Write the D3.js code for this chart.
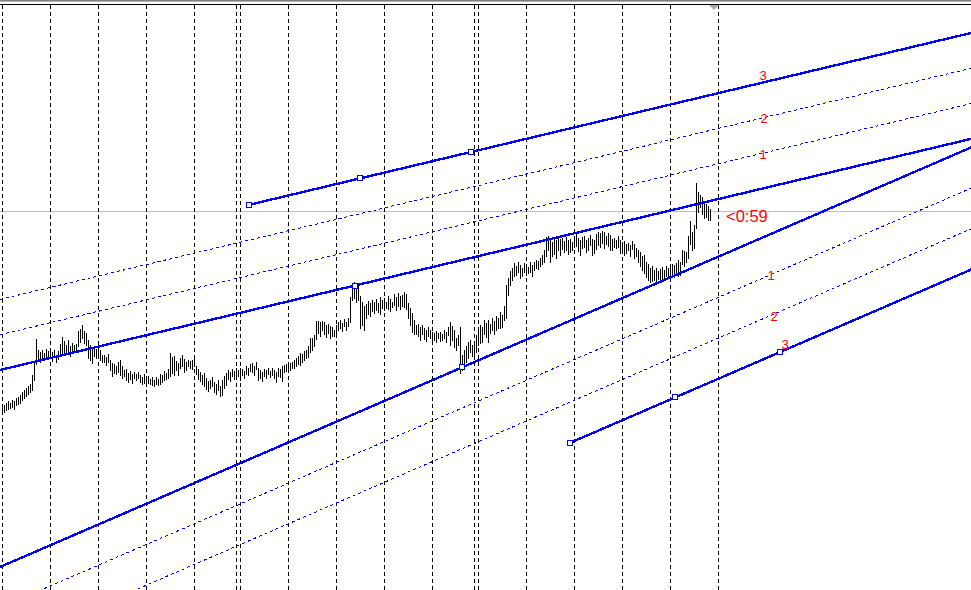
<!DOCTYPE html>
<html><head><meta charset="utf-8">
<script src="https://cdn.jsdelivr.net/npm/d3@7"></script>
<style>html,body{margin:0;padding:0;background:#fff;overflow:hidden}svg{display:block}</style>
</head><body><svg id="c" width="971" height="590"></svg>
<script>
// ---- data (H1 bars, price) ----
const highs = [
1.1596,1.1595,1.1597,1.1599,1.1597,1.1600,1.1599,1.1602,1.1603,1.1605,
1.1608,1.1610,1.1612,1.1614,1.1616,1.1625,1.1638,1.1661,1.1650,1.1648,
1.1650,1.1647,1.1651,1.1649,1.1652,1.1648,1.1650,1.1645,1.1649,1.1656,
1.1663,1.1659,1.1655,1.1660,1.1654,1.1657,1.1655,1.1656,1.1669,1.1671,
1.1675,1.1669,1.1667,1.1660,1.1655,1.1652,1.1654,1.1651,1.1657,1.1650,
1.1645,1.1645,1.1643,1.1646,1.1640,1.1637,1.1636,1.1634,1.1638,1.1640,
1.1634,1.1630,1.1631,1.1627,1.1629,1.1626,1.1628,1.1626,1.1628,1.1625,
1.1623,1.1626,1.1622,1.1624,1.1621,1.1623,1.1620,1.1623,1.1621,1.1626,
1.1625,1.1629,1.1627,1.1631,1.1647,1.1643,1.1644,1.1639,1.1637,1.1642,
1.1645,1.1641,1.1638,1.1640,1.1639,1.1640,1.1644,1.1634,1.1631,1.1628,
1.1625,1.1627,1.1622,1.1619,1.1620,1.1623,1.1618,1.1616,1.1620,1.1614,
1.1620,1.1624,1.1627,1.1630,1.1628,1.1631,1.1629,1.1632,1.1630,1.1632,
1.1631,1.1629,1.1634,1.1632,1.1636,1.1637,1.1634,1.1638,1.1632,1.1630,
1.1628,1.1631,1.1630,1.1632,1.1629,1.1632,1.1630,1.1628,1.1632,1.1631,
1.1634,1.1635,1.1636,1.1634,1.1637,1.1638,1.1640,1.1642,1.1644,1.1647,
1.1646,1.1649,1.1650,1.1654,1.1662,1.1662,1.1665,1.1679,1.1679,1.1678,
1.1679,1.1678,1.1675,1.1676,1.1674,1.1673,1.1670,1.1675,1.1678,1.1680,
1.1677,1.1681,1.1678,1.1682,1.1703,1.1716,1.1718,1.1714,1.1716,1.1704,
1.1698,1.1694,1.1696,1.1699,1.1697,1.1700,1.1698,1.1701,1.1697,1.1703,
1.1700,1.1702,1.1698,1.1704,1.1701,1.1698,1.1706,1.1703,1.1707,1.1704,
1.1705,1.1708,1.1706,1.1697,1.1692,1.1687,1.1680,1.1675,1.1676,1.1673,
1.1675,1.1672,1.1670,1.1673,1.1670,1.1668,1.1667,1.1669,1.1667,1.1668,
1.1666,1.1670,1.1668,1.1673,1.1678,1.1674,1.1670,1.1662,1.1665,1.1673,
1.1645,1.1650,1.1654,1.1658,1.1660,1.1655,1.1656,1.1665,1.1670,1.1675,
1.1673,1.1680,1.1677,1.1680,1.1676,1.1682,1.1679,1.1684,1.1682,1.1688,
1.1685,1.1694,1.1715,1.1722,1.1729,1.1732,1.1737,1.1734,1.1738,1.1735,
1.1732,1.1737,1.1736,1.1733,1.1738,1.1735,1.1738,1.1740,1.1739,1.1742,
1.1745,1.1750,1.1763,1.1764,1.1760,1.1758,1.1762,1.1760,1.1764,1.1761,
1.1762,1.1759,1.1763,1.1760,1.1761,1.1758,1.1764,1.1766,1.1762,1.1760,
1.1763,1.1764,1.1760,1.1762,1.1765,1.1761,1.1760,1.1766,1.1768,1.1767,
1.1769,1.1768,1.1764,1.1767,1.1765,1.1761,1.1762,1.1760,1.1764,1.1760,
1.1758,1.1759,1.1756,1.1757,1.1755,1.1759,1.1756,1.1752,1.1750,1.1748,
1.1744,1.1745,1.1738,1.1736,1.1732,1.1734,1.1730,1.1732,1.1729,1.1731,
1.1733,1.1730,1.1734,1.1732,1.1734,1.1736,1.1735,1.1737,1.1740,1.1738,
1.1750,1.1749,1.1748,1.1764,1.1779,1.1768,1.1775,1.1817,1.1808,1.1805,
1.1803,1.1798,1.1796,1.1794,1.1791
];
const lows = [
1.1589,1.1588,1.1590,1.1591,1.1592,1.1593,1.1591,1.1595,1.1596,1.1597,
1.1600,1.1602,1.1604,1.1606,1.1608,1.1610,1.1620,1.1636,1.1640,1.1638,
1.1641,1.1640,1.1643,1.1642,1.1644,1.1639,1.1643,1.1638,1.1641,1.1644,
1.1646,1.1645,1.1647,1.1648,1.1644,1.1649,1.1648,1.1650,1.1654,1.1658,
1.1662,1.1657,1.1655,1.1642,1.1640,1.1637,1.1644,1.1642,1.1645,1.1640,
1.1638,1.1638,1.1635,1.1638,1.1630,1.1624,1.1627,1.1626,1.1628,1.1625,
1.1622,1.1624,1.1620,1.1618,1.1621,1.1617,1.1622,1.1620,1.1622,1.1618,
1.1616,1.1617,1.1615,1.1617,1.1616,1.1615,1.1614,1.1616,1.1615,1.1616,
1.1618,1.1620,1.1621,1.1622,1.1624,1.1627,1.1625,1.1630,1.1625,1.1632,
1.1634,1.1628,1.1630,1.1634,1.1632,1.1631,1.1634,1.1626,1.1621,1.1619,
1.1616,1.1614,1.1611,1.1609,1.1612,1.1614,1.1608,1.1606,1.1610,1.1604,
1.1605,1.1612,1.1615,1.1621,1.1619,1.1624,1.1621,1.1623,1.1624,1.1620,
1.1625,1.1622,1.1626,1.1625,1.1629,1.1628,1.1625,1.1631,1.1620,1.1622,
1.1619,1.1624,1.1622,1.1626,1.1623,1.1625,1.1622,1.1618,1.1624,1.1623,
1.1619,1.1628,1.1629,1.1630,1.1630,1.1632,1.1632,1.1634,1.1636,1.1635,
1.1638,1.1640,1.1642,1.1643,1.1648,1.1650,1.1654,1.1661,1.1667,1.1664,
1.1670,1.1666,1.1663,1.1667,1.1662,1.1664,1.1664,1.1667,1.1670,1.1672,
1.1669,1.1674,1.1670,1.1674,1.1678,1.1700,1.1702,1.1698,1.1700,1.1672,
1.1675,1.1670,1.1682,1.1686,1.1684,1.1689,1.1687,1.1690,1.1688,1.1686,
1.1692,1.1690,1.1692,1.1691,1.1689,1.1693,1.1695,1.1690,1.1694,1.1691,
1.1694,1.1693,1.1691,1.1682,1.1675,1.1668,1.1666,1.1666,1.1664,1.1660,
1.1666,1.1661,1.1659,1.1664,1.1662,1.1659,1.1660,1.1658,1.1662,1.1659,
1.1660,1.1662,1.1658,1.1665,1.1655,1.1660,1.1653,1.1650,1.1655,1.1627,
1.1630,1.1633,1.1638,1.1642,1.1648,1.1644,1.1641,1.1648,1.1655,1.1657,
1.1658,1.1666,1.1663,1.1658,1.1667,1.1670,1.1666,1.1670,1.1672,1.1672,
1.1673,1.1680,1.1682,1.1705,1.1715,1.1720,1.1724,1.1725,1.1728,1.1722,
1.1724,1.1728,1.1725,1.1727,1.1728,1.1724,1.1730,1.1732,1.1731,1.1734,
1.1736,1.1738,1.1744,1.1750,1.1738,1.1744,1.1746,1.1742,1.1750,1.1745,
1.1751,1.1748,1.1750,1.1746,1.1748,1.1750,1.1753,1.1754,1.1749,1.1745,
1.1752,1.1753,1.1748,1.1750,1.1755,1.1745,1.1747,1.1751,1.1755,1.1753,
1.1757,1.1752,1.1756,1.1754,1.1750,1.1750,1.1753,1.1752,1.1753,1.1747,
1.1750,1.1745,1.1747,1.1750,1.1744,1.1751,1.1742,1.1744,1.1738,1.1734,
1.1730,1.1727,1.1723,1.1720,1.1718,1.1719,1.1720,1.1718,1.1721,1.1719,
1.1722,1.1721,1.1724,1.1723,1.1720,1.1726,1.1723,1.1726,1.1724,1.1725,
1.1736,1.1734,1.1738,1.1742,1.1756,1.1750,1.1752,1.1772,1.1788,1.1793,
1.1786,1.1782,1.1783,1.1780,1.1780
];
const separatorBars = [0,24,48,72,96,117,119,143,167,191,215,236,238,262,286,310,334,358];
const bidPrice = 1.1789;
const countdownText = "<0:59";

// Fibonacci channel 1 (upper): base line anchors [bar, price], level step, levels
const upperBase = [[-1, 1.1630], [484.5, 1.18611]];
const upperStep = 0.00353;
const upperLevels = [0, 1, 2, 3];
const upperLevelFrom = [-1, -1, -1, 123.5];
const upperMarks = [[123.5, 3], [179, 3], [234.5, 3], [176.5, 0]];
const upperLabels = [["1", 380.5, 1], ["2", 381, 2], ["3", 380.5, 3]];

// Fibonacci channel 2 (lower)
const lowerBase = [[-1, 1.1433], [484.5, 1.18525]];
const lowerStep = -0.00407;
const lowerLevels = [0, 1, 2, 3];
const lowerLevelFrom = [-1, -1, -1, 284];
const lowerMarks = [[230, 0], [284, 3], [336.5, 3], [389, 3]];
const lowerLabels = [["1", 384.5, 1], ["2", 386, 2], ["3", 391.5, 3]];

// ---- drawing ----
const W = 971, H = 590;
const svg = d3.select("#c");
const x = d3.scaleLinear().domain([0, 485]).range([2, 972]);
const y = d3.scaleLinear().domain([1.141, 1.2]).range([590, 0]);

// top frame
svg.append("rect").attr("x", 0).attr("y", 0).attr("width", W).attr("height", 1).attr("fill", "#7f7f7f");
svg.append("rect").attr("x", 0).attr("y", 1).attr("width", W).attr("height", 1).attr("fill", "#b4b4b4");
svg.append("line").attr("x1", 0).attr("x2", W).attr("y1", 4.5).attr("y2", 4.5).attr("stroke", "#000").attr("stroke-width", 1);

const plot = svg.append("g");
svg.append("defs").append("clipPath").attr("id", "pc")
  .append("rect").attr("x", 0).attr("y", 5).attr("width", W).attr("height", H - 5);
plot.attr("clip-path", "url(#pc)");

// bid line
const by = Math.round(y(bidPrice)) + 0.5;
plot.append("line").attr("x1", 0).attr("x2", W).attr("y1", by).attr("y2", by)
  .attr("stroke", "#c0c0c0").attr("stroke-width", 1);

// period separators
plot.selectAll("line.sep").data(separatorBars).join("line").attr("class", "sep")
  .attr("x1", d => Math.round(x(d)) + 0.5).attr("x2", d => Math.round(x(d)) + 0.5)
  .attr("y1", 5).attr("y2", H)
  .attr("stroke", "#000").attr("stroke-width", 1).attr("stroke-dasharray", "4,3");

// bars
plot.selectAll("line.bar").data(highs.map((h, i) => [i, h, lows[i]])).join("line").attr("class", "bar")
  .attr("x1", d => Math.round(x(d[0])) + 0.5).attr("x2", d => Math.round(x(d[0])) + 0.5)
  .attr("y1", d => Math.round(y(d[1]))).attr("y2", d => Math.round(y(d[2])) + 1)
  .attr("stroke", "#000").attr("stroke-width", 1);

function drawChannel(base, step, levels, from, marks, labels, labelDy) {
  const [b0, p0] = base[0], [b1, p1] = base[1];
  const priceAt = (bar, lvl) => p0 + (p1 - p0) * (bar - b0) / (b1 - b0) + lvl * step;
  levels.forEach((lvl, k) => {
    const main = (lvl === 0 || lvl === 3);
    plot.append("line")
      .attr("x1", x(from[k])).attr("y1", y(priceAt(from[k], lvl)))
      .attr("x2", x(490)).attr("y2", y(priceAt(490, lvl)))
      .attr("stroke", "#0000ff")
      .attr("stroke-width", main ? 2.4 : 1)
      .attr("shape-rendering", "crispEdges")
      .attr("stroke-dasharray", main ? null : "3,3");
  });
  marks.forEach(([bar, lvl]) => {
    plot.append("rect")
      .attr("x", Math.round(x(bar)) - 2.5).attr("y", Math.round(y(priceAt(bar, lvl))) - 2.5)
      .attr("width", 5).attr("height", 5)
      .attr("fill", "#fff").attr("stroke", "#0000ff").attr("stroke-width", 1);
  });
  labels.forEach(([t, bar, lvl], k) => {
    plot.append("text").attr("x", x(bar)).attr("y", y(priceAt(bar, lvl)) + labelDy[k])
      .attr("text-anchor", "middle").attr("fill", "#ff0000")
      .attr("font-family", "'Liberation Sans', Arial, sans-serif").attr("font-size", 13)
      .text(t);
  });
}
drawChannel(upperBase, upperStep, upperLevels, upperLevelFrom, upperMarks, upperLabels, [6, 5, -2.5]);
drawChannel(lowerBase, lowerStep, lowerLevels, lowerLevelFrom, lowerMarks, lowerLabels, [5, 7, -1]);

// countdown label
svg.append("text").attr("x", x(362)).attr("y", y(bidPrice) + 11)
  .attr("fill", "#ff0000").attr("font-family", "'Liberation Sans', Arial, sans-serif")
  .attr("font-size", 16.5).text(countdownText);

// chart shift marker
const sx = Math.round(x(355)) + 2;
svg.append("path").attr("d", `M${sx - 5},5 L${sx + 5},5 L${sx},10 Z`).attr("fill", "#a8a8a8");
</script>
</body></html>
